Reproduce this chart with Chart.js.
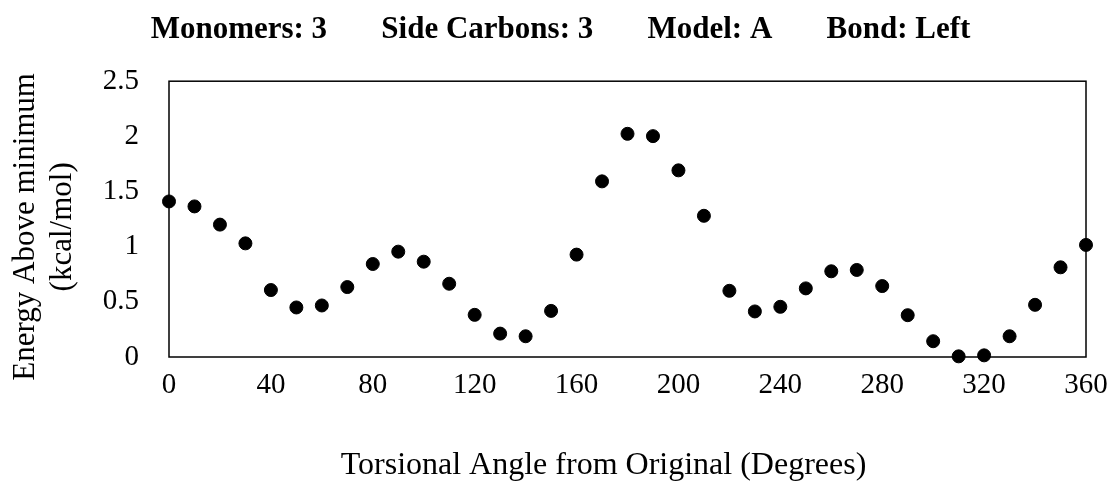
<!DOCTYPE html>
<html>
<head>
<meta charset="utf-8">
<script src="https://cdn.jsdelivr.net/npm/chart.js@4/dist/chart.umd.min.js"></script>
<style>
  html, body { margin: 0; padding: 0; background: #fff; }
  #wrap { width: 1114px; height: 487px; }
</style>
</head>
<body>
<div id="wrap"><canvas id="chart"></canvas></div>
<script>
'use strict';

let canvasElem = document.getElementById('chart');

// torsional angle (degrees) and energy above minimum (kcal/mol)
let angles = [0, 10, 20, 30, 40, 50, 60, 70, 80, 90, 100, 110, 120, 130, 140, 150, 160, 170, 180,
  190, 200, 210, 220, 230, 240, 250, 260, 270, 280, 290, 300, 310, 320, 330, 340, 350, 360];
let energies = [1.41, 1.365, 1.20, 1.03, 0.607, 0.449, 0.467, 0.634, 0.843, 0.955, 0.864, 0.664, 0.382,
  0.212, 0.188, 0.418, 0.928, 1.592, 2.023, 2.002, 1.692, 1.28, 0.60, 0.413, 0.455, 0.622, 0.777,
  0.789, 0.643, 0.379, 0.143, 0.006, 0.015, 0.188, 0.473, 0.813, 1.016];
let xTicks = [0, 40, 80, 120, 160, 200, 240, 280, 320, 360];
let yTicks = [0, 0.5, 1, 1.5, 2, 2.5];

let points = [];
for (let i = 0; i < angles.length; i++) {
  points.push({ x: angles[i], y: energies[i] });
}

// box round the plot area
let frame = {
  id: 'frame',
  afterDatasetsDraw(chart) {
    let a = chart.chartArea;
    let ctx = chart.ctx;
    ctx.save();
    ctx.strokeStyle = '#000';
    ctx.lineWidth = 1.5;
    ctx.strokeRect(a.left, a.top, a.right - a.left, a.bottom - a.top);
    ctx.restore();
  }
};

let family = '"Liberation Serif", "Times New Roman", serif';
let tickFont = { family: family, size: 29 };

let chartObj = {
  type: 'scatter',
  data: {
    datasets: [{
      label: 'Energy',
      data: points,
      backgroundColor: '#000',
      borderColor: '#000',
      pointRadius: 6.5,
      pointHoverRadius: 6.5,
      clip: false
    }]
  },
  options: {
    responsive: true,
    maintainAspectRatio: false,
    animation: false,
    layout: { padding: { top: 0, right: 28, bottom: 2, left: 4 } },
    plugins: {
      legend: { display: false },
      tooltip: { enabled: false },
      title: {
        display: true,
        text: '    Monomers: 3       Side Carbons: 3       Model: A       Bond: Left',
        color: '#000',
        font: { family: family, size: 31, weight: 'bold' },
        padding: { top: 11, bottom: 33 }
      }
    },
    scales: {
      x: {
        type: 'linear',
        min: 0,
        max: 360,
        afterBuildTicks: (axis) => { axis.ticks = xTicks.map(v => ({ value: v })); },
        afterFit: (axis) => {
          axis.height = 128;
          axis.paddingLeft = 0;
          axis.paddingRight = 0;
        },
        grid: { display: false, drawTicks: false },
        border: { display: false },
        ticks: { color: '#000', font: tickFont, padding: 11, maxRotation: 0 },
        title: {
          display: true,
          text: 'Torsional Angle from Original (Degrees)      ',
          color: '#000',
          font: { family: family, size: 32 },
          padding: { top: 45, bottom: 0 }
        }
      },
      y: {
        type: 'linear',
        min: 0,
        max: 2.5,
        afterBuildTicks: (axis) => { axis.ticks = yTicks.map(v => ({ value: v })); },
        afterFit: (axis) => { axis.width = 165; },
        grid: { display: false, drawTicks: false },
        border: { display: false },
        ticks: { color: '#000', font: tickFont, padding: 30, callback: (v) => String(v) },
        title: {
          display: true,
          text: ['Energy Above minimum  ', '(kcal/mol)  '],
          color: '#000',
          font: { family: family, size: 31 },
          padding: { top: 3, bottom: 0 }
        }
      }
    }
  },
  plugins: [frame]
};

new Chart(canvasElem, chartObj);
</script>
</body>
</html>
